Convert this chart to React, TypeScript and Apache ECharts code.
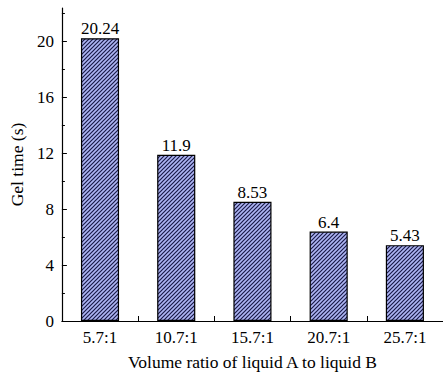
import React, { useEffect, useRef } from "react";
import * as echarts from "echarts";

const categories = ["5.7:1", "10.7:1", "15.7:1", "20.7:1", "25.7:1"];
const gelTimes = [20.24, 11.9, 8.53, 6.4, 5.43];
const majorTicks = [0, 4, 8, 12, 16, 20];
const minorTicks = [2, 6, 10, 14, 18, 22];

const FONT = "'Liberation Serif', 'Times New Roman', serif";

function makeHatch() {
  const c = document.createElement("canvas");
  c.width = 4;
  c.height = 4;
  const g = c.getContext("2d")!;
  g.fillStyle = "#aeb6f4";
  g.fillRect(0, 0, 4, 4);
  g.strokeStyle = "#1a1a48";
  g.lineWidth = 1.2;
  g.beginPath();
  g.moveTo(-1, 5);
  g.lineTo(5, -1);
  g.moveTo(-1, 1);
  g.lineTo(1, -1);
  g.moveTo(3, 5);
  g.lineTo(5, 3);
  g.stroke();
  return c;
}

export default function App() {
  const ref = useRef<HTMLDivElement>(null);
  useEffect(() => {
    if (!ref.current) return;
    const chart = echarts.init(ref.current, null, { renderer: "svg" });
    const hatch = makeHatch();
    chart.setOption({
      animation: false,
      grid: { left: 57, right: -4, top: 8, bottom: 55 },
      xAxis: [
        {
          type: "category",
          data: categories,
          position: "bottom",
          axisLine: { show: true, lineStyle: { color: "#000", width: 1.2 } },
          axisTick: { show: true, inside: true, length: 5, alignWithLabel: false, lineStyle: { color: "#000" } },
          axisLabel: { color: "#000", fontFamily: FONT, fontSize: 17, margin: 8 },
          name: "Volume ratio of liquid A to liquid B",
          nameLocation: "middle",
          nameGap: 32,
          nameTextStyle: { color: "#000", fontFamily: FONT, fontSize: 17.5 },
        },
        {
          type: "category",
          data: categories,
          position: "bottom",
          axisLine: { show: false },
          axisTick: { show: true, inside: true, length: 3, alignWithLabel: true, lineStyle: { color: "#000" } },
          axisLabel: { show: false },
        },
      ],
      yAxis: [
        {
          type: "value",
          min: 0,
          max: 22.4,
          interval: 4,
          position: "left",
          axisLine: { show: true, lineStyle: { color: "#000", width: 1.2 } },
          axisTick: { show: true, inside: true, length: 5, customValues: majorTicks, lineStyle: { color: "#000" } },
          axisLabel: { color: "#000", fontFamily: FONT, fontSize: 17, margin: 8, customValues: majorTicks },
          splitLine: { show: false },
          name: "Gel time (s)",
          nameLocation: "middle",
          nameGap: 29,
          nameTextStyle: { color: "#000", fontFamily: FONT, fontSize: 17.5 },
        },
        {
          type: "value",
          min: 0,
          max: 22.4,
          interval: 2,
          position: "left",
          axisLine: { show: false },
          axisTick: { show: true, inside: true, length: 3, customValues: minorTicks, lineStyle: { color: "#000" } },
          axisLabel: { show: false },
          splitLine: { show: false },
        },
      ],
      series: [
        {
          type: "bar",
          xAxisIndex: 0,
          yAxisIndex: 0,
          data: gelTimes,
          barWidth: "50%",
          itemStyle: {
            color: { image: hatch, repeat: "repeat", imageWidth: 4, imageHeight: 4 },
            borderColor: "#000",
            borderWidth: 1.2,
          },
          label: {
            show: true,
            position: "top",
            distance: 1,
            color: "#000",
            fontFamily: FONT,
            fontSize: 17,
          },
        },
      ],
    });
    return () => chart.dispose();
  }, []);
  return <div ref={ref} style={{ width: 443, height: 376, position: "absolute", left: 0, top: 0 }} />;
}
